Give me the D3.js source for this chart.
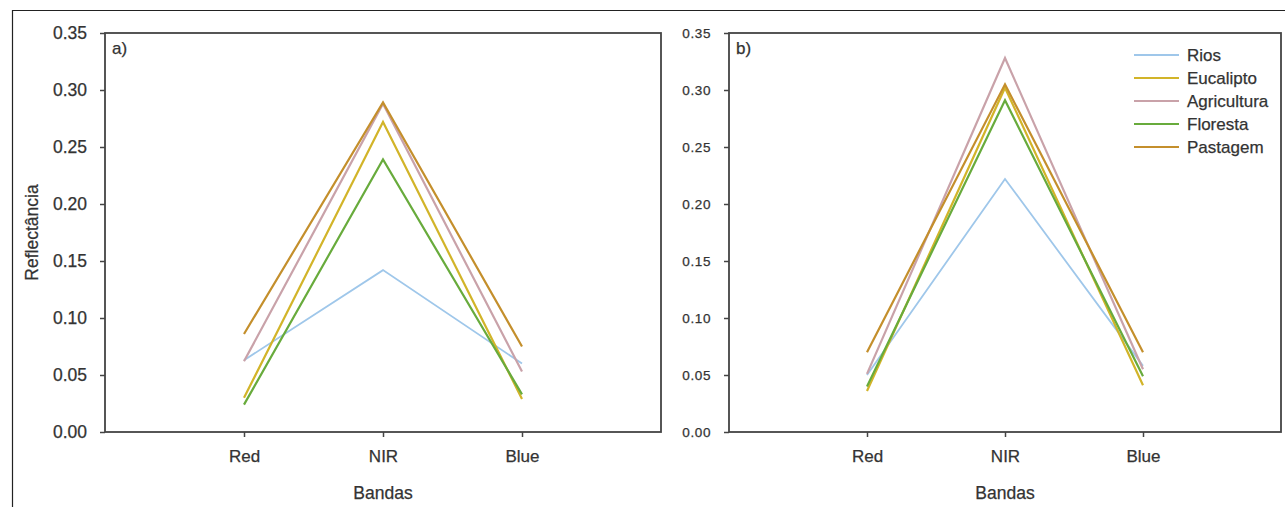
<!DOCTYPE html>
<html>
<head>
<meta charset="utf-8">
<script src="https://cdn.jsdelivr.net/npm/d3@7"></script>
<style>
  body { margin: 0; background: #fff; }
  svg { display: block; font-family: "Liberation Sans", Arial, sans-serif; }
  text { stroke: #333; stroke-width: 0.25px; }
</style>
</head>
<body>
<svg id="chart" width="1285" height="507"></svg>
<script>
// bands on the x axis
var bands = ['Red', 'NIR', 'Blue'];
var series = ['Rios', 'Eucalipto', 'Agricultura', 'Floresta', 'Pastagem'];
var colors = ['#9fc7ea', '#d2b429', '#c9a2a9', '#68ab3c', '#c48f2c'];
var yTicks = [0, 0.05, 0.10, 0.15, 0.20, 0.25, 0.30, 0.35];

// panel a) reflectance per band
var rios_a = [0.063, 0.142, 0.060];
var eucalipto_a = [0.030, 0.272, 0.029];
var agricultura_a = [0.062, 0.288, 0.053];
var floresta_a = [0.024, 0.239, 0.033];
var pastagem_a = [0.086, 0.289, 0.075];

// panel b)
var rios_b = [0.050, 0.222, 0.058];
var eucalipto_b = [0.036, 0.302, 0.041];
var agricultura_b = [0.051, 0.328, 0.055];
var floresta_b = [0.040, 0.291, 0.049];
var pastagem_b = [0.070, 0.305, 0.070];

var svg = d3.select('#chart');

// outer frame (only top and left visible)
svg.append('path')
    .attr('d', 'M12.5,507V10.5H1285')
    .attr('fill', 'none')
    .attr('stroke', '#222')
    .attr('stroke-width', 1.2);

var panels = [
  { tag: 'a)', left: 105, right: 661, yFont: 17.5, ySpacing: 0, ylabel: true, legend: false,
    values: [rios_a, eucalipto_a, agricultura_a, floresta_a, pastagem_a] },
  { tag: 'b)', left: 729, right: 1281, yFont: 13.5, ySpacing: 0.6, ylabel: false, legend: true,
    values: [rios_b, eucalipto_b, agricultura_b, floresta_b, pastagem_b] }
];

var plotTop = 33, plotBottom = 432;
var axisColor = '#444', textColor = '#333';

panels.forEach(function (p) {
  var x = d3.scalePoint().domain(bands).range([p.left, p.right]).padding(1);
  var y = d3.scaleLinear().domain([0, 0.35]).range([plotBottom, plotTop]);
  var g = svg.append('g');

  // series lines
  var line = d3.line()
      .x(function (d, i) { return x(bands[i]); })
      .y(function (d) { return y(d); });
  p.values.forEach(function (vals, i) {
    g.append('path')
        .datum(vals)
        .attr('d', line)
        .attr('fill', 'none')
        .attr('stroke', colors[i])
        .attr('stroke-width', i === 0 ? 1.8 : 2.2)
        .attr('stroke-linejoin', 'miter');
  });

  // frame
  g.append('rect')
      .attr('x', p.left).attr('y', plotTop)
      .attr('width', p.right - p.left).attr('height', plotBottom - plotTop)
      .attr('fill', 'none').attr('stroke', axisColor).attr('stroke-width', 1.8);

  var yAxis = g.append('g')
      .attr('transform', 'translate(' + p.left + ',0)')
      .call(d3.axisLeft(y).tickValues(yTicks).tickFormat(d3.format('.2f')).tickSize(5).tickPadding(13));
  yAxis.select('.domain').remove();
  yAxis.selectAll('line').attr('stroke', axisColor).attr('stroke-width', 1.5);
  yAxis.selectAll('text').attr('fill', textColor)
      .style('font-size', p.yFont + 'px').style('letter-spacing', p.ySpacing + 'px');

  var xAxis = g.append('g')
      .attr('transform', 'translate(0,' + plotBottom + ')')
      .call(d3.axisBottom(x).tickSize(5).tickPadding(13));
  xAxis.select('.domain').remove();
  xAxis.selectAll('line').attr('stroke', axisColor).attr('stroke-width', 1.5);
  xAxis.selectAll('text').attr('fill', textColor).style('font-size', '17px');

  g.append('text')
      .attr('x', (p.left + p.right) / 2).attr('y', 499)
      .attr('text-anchor', 'middle').attr('fill', textColor)
      .style('font-size', '17.5px').text('Bandas');

  g.append('text')
      .attr('x', p.left + 7).attr('y', 54)
      .attr('fill', textColor).style('font-size', '17px').text(p.tag);

  if (p.ylabel) {
    g.append('text')
        .attr('transform', 'translate(38,' + ((plotTop + plotBottom) / 2) + ') rotate(-90)')
        .attr('text-anchor', 'middle').attr('fill', textColor)
        .style('font-size', '17.5px').text('Reflectância');
  }

  if (p.legend) {
    var lg = g.append('g').attr('transform', 'translate(1134,55)');
    series.forEach(function (s, i) {
      var row = lg.append('g').attr('transform', 'translate(0,' + (i * 23) + ')');
      row.append('line')
          .attr('x1', 0).attr('x2', 45).attr('y1', 0).attr('y2', 0)
          .attr('stroke', colors[i]).attr('stroke-width', 2.2);
      row.append('text')
          .attr('x', 53).attr('y', 6)
          .attr('fill', textColor).style('font-size', '17px').text(s);
    });
  }
});
</script>
</body>
</html>
